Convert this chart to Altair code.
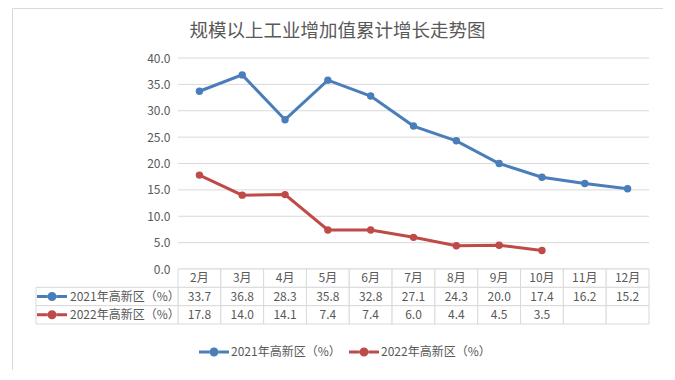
import altair as alt
import pandas as pd

title_text = "规模以上工业增加值累计增长走势图"
months = ["2月", "3月", "4月", "5月", "6月", "7月", "8月", "9月", "10月", "11月", "12月"]
series_names = ["2021年高新区（%）", "2022年高新区（%）"]
values_2021 = [33.7, 36.8, 28.3, 35.8, 32.8, 27.1, 24.3, 20.0, 17.4, 16.2, 15.2]
values_2022 = [17.8, 14.0, 14.1, 7.4, 7.4, 6.0, 4.4, 4.5, 3.5]
y_ticks = [0, 5, 10, 15, 20, 25, 30, 35, 40]
colors = ["#4A7EBB", "#BE4B48"]

FONT = "Noto Sans CJK SC"
TXT = "#595959"
GRID = "#D9D9D9"

# ---- data tables ----
rows = []
for key, name, vals in [("r1", series_names[0], values_2021), ("r2", series_names[1], values_2022)]:
    for m, v in zip(months, vals):
        rows.append({"month": m, "series": name, "value": v, "row": key})
df = pd.DataFrame(rows)

cells = [{"month": m, "row": "hdr", "label": m} for m in months]
for key, vals in [("r1", values_2021), ("r2", values_2022)]:
    for i, m in enumerate(months):
        cells.append({"month": m, "row": key, "label": f"{vals[i]:.1f}" if i < len(vals) else ""})
df_cells = pd.DataFrame(cells)

df_labels = pd.DataFrame({"col": ["label", "label"], "row": ["r1", "r2"], "series": series_names})
df_grid = pd.DataFrame({"v": y_ticks, "a": [0] * len(y_ticks), "b": [1] * len(y_ticks)})

# ---- scales ----
X_MONTH = alt.Scale(type="band", domain=months, range=[166, 637], paddingInner=0, paddingOuter=0)
X_LABEL = alt.Scale(type="band", domain=["label"], range=[24, 166], paddingInner=0, paddingOuter=0)
X_GRID = alt.Scale(domain=[0, 1], range=[166, 637])
Y_VAL = alt.Scale(domain=[0, 40], range=[261, 50], nice=False, zero=True)
Y_ROW = alt.Scale(type="band", domain=["hdr", "r1", "r2"], range=[261, 316], paddingInner=0, paddingOuter=0)
COLOR = alt.Scale(domain=series_names, range=colors)

SYMBOL = ("M-1,-0.1L-0.3,-0.1L-0.3,0.1L-1,0.1Z "
          "M0.3,-0.1L1,-0.1L1,0.1L0.3,0.1Z "
          "M0.3,0A0.3,0.3,0,1,1,-0.3,0A0.3,0.3,0,1,1,0.3,0Z")

legend = alt.Legend(
    title=None, orient="none", legendX=187, legendY=329, direction="horizontal",
    symbolType=SYMBOL, symbolSize=900, symbolStrokeWidth=0, symbolOpacity=1,
    labelFont=FONT, labelFontSize=12, labelColor=TXT, labelOffset=2, columnPadding=8,
)

grid = alt.Chart(df_grid).mark_rule(color=GRID, strokeWidth=1).encode(
    x=alt.X("a:Q", scale=X_GRID, axis=None),
    x2="b:Q",
    y=alt.Y("v:Q", scale=Y_VAL, axis=None),
)

line = alt.Chart(df).mark_line(strokeWidth=3).encode(
    x=alt.X("month:N", scale=X_MONTH, axis=None, sort=months),
    y=alt.Y("value:Q", scale=Y_VAL, axis=alt.Axis(
        offset=-166, values=y_ticks, format=".1f", domain=False, ticks=False, grid=False,
        labelFont=FONT, labelFontSize=12, labelColor=TXT, labelPadding=8, title=None)),
    color=alt.Color("series:N", scale=COLOR, legend=legend, sort=series_names),
)

points = alt.Chart(df).mark_point(filled=True, size=55, opacity=1).encode(
    x=alt.X("month:N", scale=X_MONTH, axis=None, sort=months),
    y=alt.Y("value:Q", scale=Y_VAL, axis=None),
    color=alt.Color("series:N", scale=COLOR, sort=series_names),
)

cell_rect = alt.Chart(df_cells).mark_rect(fill="white", stroke=GRID, strokeWidth=1).encode(
    x=alt.X("month:N", scale=X_MONTH, axis=None, sort=months),
    y=alt.Y("row:N", scale=Y_ROW, axis=None),
)
cell_text = alt.Chart(df_cells).mark_text(font=FONT, fontSize=12, color=TXT).encode(
    x=alt.X("month:N", scale=X_MONTH, axis=None, sort=months),
    y=alt.Y("row:N", scale=Y_ROW, axis=None),
    text="label:N",
)

label_rect = alt.Chart(df_labels).mark_rect(fill="white", stroke=GRID, strokeWidth=1).encode(
    x=alt.X("col:N", scale=X_LABEL, axis=None),
    y=alt.Y("row:N", scale=Y_ROW, axis=None),
)
label_sym = alt.Chart(df_labels).mark_point(shape=SYMBOL, size=900, filled=True, opacity=1, xOffset=-55).encode(
    x=alt.X("col:N", scale=X_LABEL, axis=None),
    y=alt.Y("row:N", scale=Y_ROW, axis=None),
    color=alt.Color("series:N", scale=COLOR, sort=series_names),
)
label_text = alt.Chart(df_labels).mark_text(font=FONT, fontSize=12, color=TXT, align="left", dx=-37).encode(
    x=alt.X("col:N", scale=X_LABEL, axis=None),
    y=alt.Y("row:N", scale=Y_ROW, axis=None),
    text="series:N",
)

chart = alt.layer(
    grid, cell_rect, cell_text, label_rect, label_sym, label_text, line, points
).resolve_scale(x="independent", y="independent").properties(
    width=651, height=362,
    autosize=alt.AutoSizeParams(type="none"),
    padding={"left": 4, "top": 0, "right": 0, "bottom": 0},
    title=alt.Title(title_text, font=FONT, fontSize=18.5, fontWeight="normal", color=TXT,
                    anchor="middle", offset=-51, baseline="bottom"),
).configure_view(stroke=GRID, strokeWidth=1)

chart.save("out.html", embed_options={"renderer": "svg", "actions": False})
